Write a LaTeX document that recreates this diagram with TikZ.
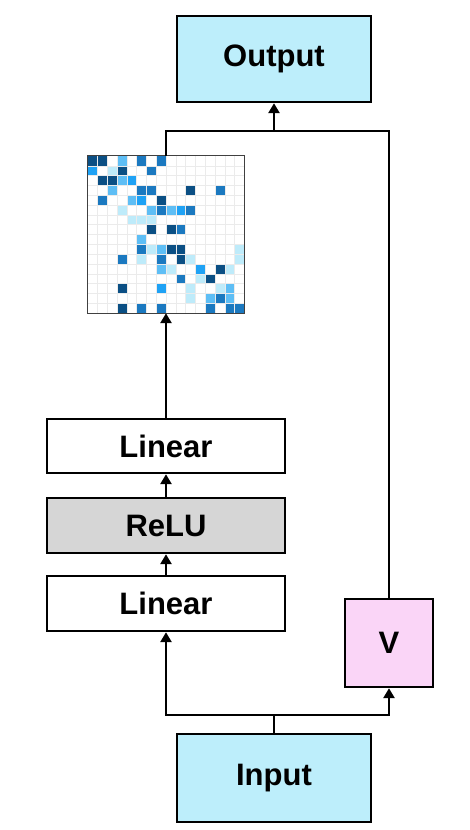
\documentclass[tikz,border=0pt]{standalone}
\usepackage{fontspec}
\setmainfont{Liberation Sans}
\usetikzlibrary{arrows.meta,positioning}
\definecolor{cyanbox}{HTML}{BDEEFB}
\definecolor{pinkbox}{HTML}{FAD5F7}
\definecolor{relugray}{HTML}{D6D6D6}
\definecolor{cD}{HTML}{0B4F84}
\definecolor{cM}{HTML}{1B79C0}
\definecolor{cB}{HTML}{1FA2F5}
\definecolor{cL}{HTML}{5EBEF5}
\definecolor{cV}{HTML}{BEEBFA}
\definecolor{gridgray}{HTML}{EBEBEB}
\tikzset{
  box/.style={draw=black, line width=2.4pt, inner sep=0pt, font=\fontsize{31}{37}\selectfont\bfseries},
  conn/.style={line width=2.6pt},
  arr/.style={conn, -{Triangle[length=10pt,width=11pt]}},
}
\begin{document}
\begin{tikzpicture}[x=1pt,y=-1pt]
\useasboundingbox (0,0) rectangle (470,830);
% boxes
\node[box, fill=cyanbox, minimum width=194pt, minimum height=86pt] (output) at (274,59) {Output};
\node[box, fill=cyanbox, minimum width=194pt, minimum height=88pt] (input) at (274,778) {Input};
\node[box, fill=white, minimum width=238pt, minimum height=54pt] (lin2) at (166,446) {Linear};
\node[box, fill=relugray, minimum width=238pt, minimum height=55pt] (relu) at (166,525.5) {ReLU};
\node[box, fill=white, minimum width=238pt, minimum height=55pt] (lin1) at (166,603.5) {Linear};
\node[box, fill=pinkbox, minimum width=88pt, minimum height=88pt] (V) at (389,643) {V};
% matrix
\node[minimum width=157pt, minimum height=157pt, inner sep=0pt, fill=white] (mat) at (166,234.5) {};
\begin{scope}[shift={(87.5,156)}]
  \def\cs{9.8125}
  \foreach \r/\c/\col in {
    0/0/cD,0/1/cD,0/3/cL,0/5/cM,0/7/cM,
    1/0/cB,1/2/cV,1/3/cD,1/6/cM,
    2/1/cD,2/2/cD,2/3/cL,2/4/cB,
    3/2/cL,3/5/cM,3/6/cM,3/10/cD,3/13/cM,
    4/1/cM,4/4/cL,4/5/cB,4/7/cD,
    5/3/cV,5/6/cL,5/7/cM,5/8/cL,5/9/cB,5/10/cM,
    6/4/cV,6/5/cV,6/6/cV,
    7/6/cD,7/8/cD,7/9/cM,
    8/5/cL,
    9/5/cM,9/6/cV,9/7/cL,9/8/cD,9/9/cD,9/15/cV,
    10/3/cM,10/5/cV,10/7/cM,10/9/cD,10/10/cV,10/15/cV,
    11/7/cL,11/8/cV,11/11/cB,11/13/cD,11/14/cV,
    12/9/cM,12/11/cV,12/12/cD,
    13/3/cD,13/7/cB,13/10/cV,13/13/cV,13/14/cL,
    14/10/cV,14/12/cL,14/13/cM,14/14/cL,
    15/3/cD,15/5/cM,15/7/cM,15/12/cM,15/14/cM,15/15/cM}
  {
    \fill[\col] (\c*\cs,\r*\cs) rectangle ++(\cs,\cs);
  }
  \foreach \i in {1,...,15}{
    \draw[gridgray, line width=0.5pt] (\i*\cs,0) -- (\i*\cs,16*\cs);
    \draw[gridgray, line width=0.5pt] (0,\i*\cs) -- (16*\cs,\i*\cs);
  }
\end{scope}
\draw[black!75, line width=0.9pt] (mat.north west) rectangle (mat.south east);
% connectors
\coordinate (topbar) at (274,131);
\coordinate (botbar) at (274,715);
\draw[conn] (mat.north) |- (topbar) -| (V.north);
\draw[arr] (topbar) -- (output.south);
\draw[arr] (lin2.north) -- (mat.south);
\draw[arr] (relu.north) -- (lin2.south);
\draw[arr] (lin1.north) -- (relu.south);
\draw[conn] (input.north) -- (botbar);
\draw[arr] (botbar) -| (lin1.south);
\draw[arr] (botbar) -| (V.south);
\end{tikzpicture}
\end{document}
